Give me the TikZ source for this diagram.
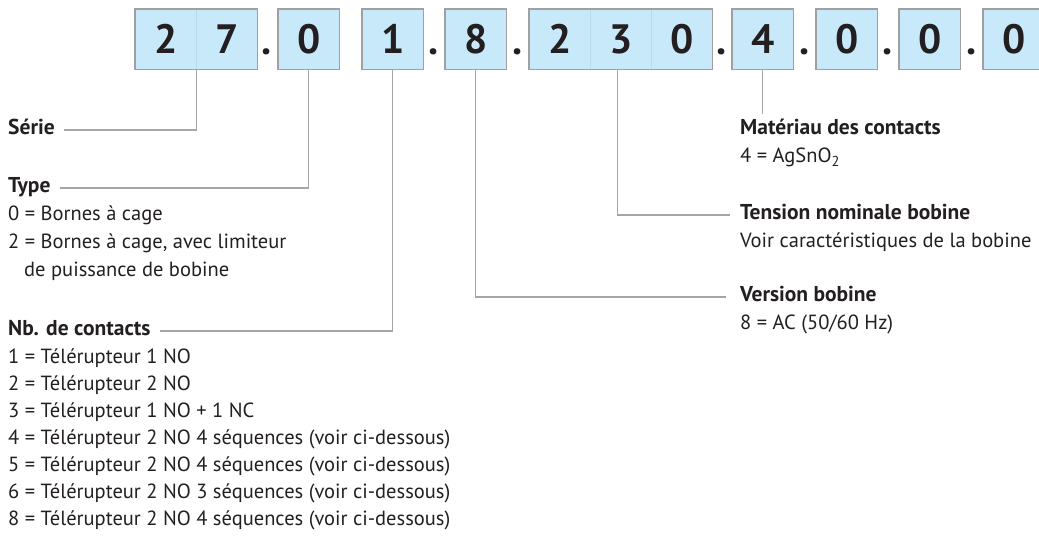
\documentclass[tikz,border=0pt]{standalone}
\usepackage{fontspec}
\setmainfont{PT Sans}
\usetikzlibrary{calc}
\definecolor{boxfill}{RGB}{200,233,249}
\definecolor{boxline}{RGB}{160,160,160}
\definecolor{divline}{RGB}{188,218,234}
\definecolor{conn}{RGB}{165,165,165}
\definecolor{txt}{RGB}{35,31,32}
\begin{document}
\begin{tikzpicture}[x=1pt,y=-1pt,
  cell/.style={fill=boxfill, minimum width=61pt, minimum height=60pt, inner sep=0pt, anchor=north west, text=txt, font=\fontsize{41}{41}\selectfont\bfseries},
  frame/.style={draw=boxline, line width=1.1pt},
  divider/.style={draw=divline, line width=0.7pt},
  sep/.style={anchor=base, inner sep=0pt, text=txt, font=\fontsize{41}{41}\selectfont\bfseries},
  head/.style={anchor=base west, inner sep=0pt, text=txt, font=\fontsize{21.5}{24}\selectfont\bfseries},
  body/.style={anchor=base west, inner sep=0pt, text=txt, font=\fontsize{20.5}{24}\selectfont},
  conn/.style={draw=conn, line width=1.2pt}]
\clip (0,0) rectangle (1039,545);
\useasboundingbox (0,0) rectangle (1039,545);
% cells
\node[cell] (a1) at (135,9) {2};
\node[cell] (a2) at (196,9) {7};
\node[cell] (b1) at (278,9) {0};
\node[cell] (c1) at (362,9) {1};
\node[cell] (d1) at (445,9) {8};
\node[cell] (e1) at (529,9) {2};
\node[cell] (e2) at (590,9) {3};
\node[cell] (e3) at (651,9) {0};
\node[cell] (f1) at (732,9) {4};
\node[cell] (g1) at (816,9) {0};
\node[cell] (h1) at (899,9) {0};
\node[cell] (i1) at (983,9) {0};
% frames and dividers
\draw[divider] (a1.north east) -- (a1.south east);
\draw[divider] (e1.north east) -- (e1.south east);
\draw[divider] (e2.north east) -- (e2.south east);
\draw[frame] (a1.north west) rectangle (a2.south east);
\draw[frame] (b1.north west) rectangle (b1.south east);
\draw[frame] (c1.north west) rectangle (c1.south east);
\draw[frame] (d1.north west) rectangle (d1.south east);
\draw[frame] (e1.north west) rectangle (e3.south east);
\draw[frame] (f1.north west) rectangle (f1.south east);
\draw[frame] (g1.north west) rectangle (g1.south east);
\draw[frame] (h1.north west) rectangle (h1.south east);
\draw[frame] (i1.north west) rectangle (i1.south east);
% separating dots
\node[sep] (p1) at (267,55) {.};
\node[sep] (p2) at (434,55) {.};
\node[sep] (p3) at (517.5,55) {.};
\node[sep] (p4) at (722,55) {.};
\node[sep] (p5) at (804.5,55) {.};
\node[sep] (p6) at (888,55) {.};
\node[sep] (p7) at (971.5,55) {.};
% left labels
\node[head] (serie) at (8,135) {Série};
\node[head] (type) at (8,193) {Type};
\node[body] (t0) at (8,221) {0 = Bornes à cage};
\node[body] (t2) at (8,249) {2 = Bornes à cage, avec limiteur};
\node[body] (t2b) at (24,277) {de puissance de bobine};
\node[head] (nb) at (8,336) {Nb. de contacts};
\node[body] (n1) at (8,363) {1 = Télérupteur 1 NO};
\node[body] (n2) at (8,390) {2 = Télérupteur 2 NO};
\node[body] (n3) at (8,417) {3 = Télérupteur 1 NO + 1 NC};
\node[body] (n4) at (8,444) {4 = Télérupteur 2 NO 4 séquences (voir ci-dessous)};
\node[body] (n5) at (8,471) {5 = Télérupteur 2 NO 4 séquences (voir ci-dessous)};
\node[body] (n6) at (8,498) {6 = Télérupteur 2 NO 3 séquences (voir ci-dessous)};
\node[body] (n8) at (8,525) {8 = Télérupteur 2 NO 4 séquences (voir ci-dessous)};
% right labels
\node[head] (mat) at (740,135) {Matériau des contacts};
\node[body] (mat4) at (740,163) {4 = AgSnO\textsubscript{2}};
\node[head] (ten) at (740,220) {Tension nominale bobine};
\node[body] (tenv) at (740,248) {Voir caractéristiques de la bobine};
\node[head] (ver) at (740,302) {Version bobine};
\node[body] (ver8) at (740,330) {8 = AC (50/60 Hz)};
% connectors
\draw[conn] (a1.south east) |- ($(serie.base east)+(9,-5)$);
\draw[conn] (b1.south) |- ($(type.base east)+(9,-5)$);
\draw[conn] (c1.south) |- ($(nb.base east)+(9,-5)$);
\draw[conn] (d1.south) |- ($(ver.base west)+(-14,-5)$);
\draw[conn] ($(e2.south)+(-3,0)$) |- ($(ten.base west)+(-10,-5)$);
\draw[conn] (f1.south) -- ($(mat.north west)!(f1.south)!(mat.north east)+(0,-5)$);
\end{tikzpicture}
\end{document}
